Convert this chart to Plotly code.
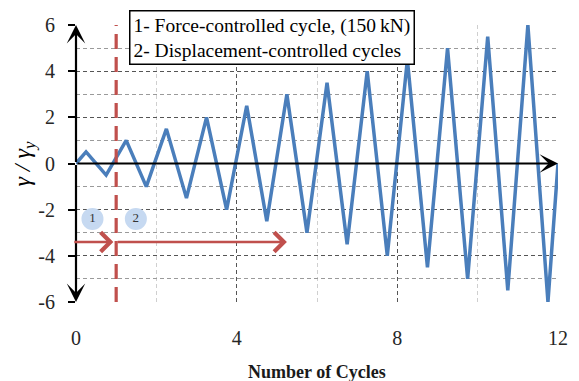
import plotly.graph_objects as go

# Data: loading protocol (peaks at k+0.25, valleys at k+0.75)
cycle_x = [0, 0.25, 0.75, 1.25, 1.75, 2.25, 2.75, 3.25, 3.75, 4.25, 4.75, 5.25, 5.75,
           6.25, 6.75, 7.25, 7.75, 8.25, 8.75, 9.25, 9.75, 10.25, 10.75, 11.25, 11.75, 12]
drift_ratio = [0, 0.5, -0.5, 1, -1, 1.5, -1.5, 2, -2, 2.5, -2.5, 3, -3,
               3.5, -3.5, 4, -4, 4.5, -4.5, 5, -5, 5.5, -5.5, 6, -6, 0]
x_ticks = [0, 4, 8, 12]
y_ticks = [-6, -4, -2, 0, 2, 4, 6]
phase_boundary = 1
phase_labels = ["1", "2"]
phase_label_x = [0.41, 1.49]
phase_label_y = [-2.4, -2.4]
legend_lines = ["1- Force-controlled cycle, (150\u2009kN)", "2- Displacement-controlled cycles"]

SERIF = "Liberation Serif"
BLUE = "#4A7EBB"
RED = "#C0504D"

fig = go.Figure()

fig.add_trace(go.Scatter(
    x=cycle_x, y=drift_ratio, mode="lines",
    line=dict(color=BLUE, width=3.5), showlegend=False, hoverinfo="skip"))

fig.add_trace(go.Scatter(
    x=phase_label_x, y=phase_label_y, mode="markers+text", text=phase_labels,
    textposition="middle center",
    marker=dict(size=22, color="#C6D9F1", line=dict(width=0)),
    textfont=dict(family=SERIF, size=13, color="#333333"),
    showlegend=False, hoverinfo="skip"))

# Red dashed boundary between phases
fig.add_shape(type="line", xref="x", yref="y", x0=phase_boundary, x1=phase_boundary,
              y0=-6, y1=6, line=dict(color=RED, width=3.2, dash="15px,8px"))

annotations = []
# y axis with double arrows
for tip in (6, -6):
    annotations.append(dict(x=0, y=tip, ax=0, ay=0, xref="x", yref="y", axref="x", ayref="y",
                            showarrow=True, arrowhead=3, arrowsize=1.4, arrowwidth=2.2,
                            arrowcolor="black", text=""))
# x axis arrow
annotations.append(dict(x=12, y=0, ax=0, ay=0, xref="x", yref="y", axref="x", ayref="y",
                        showarrow=True, arrowhead=3, arrowsize=1.4, arrowwidth=2.2,
                        arrowcolor="black", text=""))
# red phase arrows
annotations.append(dict(x=0.93, y=-3.4, ax=-0.08, ay=-3.4, xref="x", yref="y", axref="x", ayref="y",
                        showarrow=True, arrowhead=4, arrowsize=1.5, arrowwidth=2.5,
                        arrowcolor=RED, text=""))
annotations.append(dict(x=5.25, y=-3.4, ax=1, ay=-3.4, xref="x", yref="y", axref="x", ayref="y",
                        showarrow=True, arrowhead=4, arrowsize=1.5, arrowwidth=2.5,
                        arrowcolor=RED, text=""))
# legend-like text box
annotations.append(dict(xref="paper", yref="paper", x=(130 - 76) / 492, y=(302 - 10) / 277,
                        xanchor="left", yanchor="top", align="left", showarrow=False,
                        text="<br>".join(legend_lines),
                        font=dict(family=SERIF, size=19.5, color="black"),
                        bordercolor="black", borderwidth=1.5, borderpad=3, bgcolor="white"))
# axis titles
annotations.append(dict(xref="paper", yref="paper", x=0.5, y=(302 - 372) / 277,
                        xanchor="center", yanchor="middle", showarrow=False,
                        text="<b>Number of Cycles</b>",
                        font=dict(family=SERIF, size=18, color="#1a1a1a")))
annotations.append(dict(xref="paper", yref="paper", x=(22 - 76) / 492, y=0.5,
                        xanchor="center", yanchor="middle", showarrow=False, textangle=-90,
                        text="<i>\u03b3 / \u03b3<sub>y</sub></i>",
                        font=dict(family=SERIF, size=24, color="black")))

fig.update_layout(
    width=579, height=381,
    margin=dict(l=76, r=11, t=25, b=79),
    paper_bgcolor="white", plot_bgcolor="white",
    font=dict(family=SERIF),
    annotations=annotations,
    xaxis=dict(range=[0, 12], tickvals=x_ticks, ticktext=[str(v) for v in x_ticks],
               showgrid=True, gridcolor="#555555", griddash="4px,3px", gridwidth=1,
               minor=dict(dtick=2, showgrid=True, gridcolor="#cfcfcf", griddash="4px,3px", gridwidth=1),
               zeroline=False, showline=False, ticks="", ticklabelstandoff=22,
               tickfont=dict(family=SERIF, size=20, color="#262626")),
    yaxis=dict(range=[-6, 6], tickvals=y_ticks, ticktext=[str(v) for v in y_ticks],
               showgrid=True, gridcolor="#555555", griddash="4px,3px", gridwidth=1,
               minor=dict(dtick=1, showgrid=True, gridcolor="#9a9a9a", griddash="4px,3px", gridwidth=1),
               zeroline=False, showline=False, ticks="outside", ticklen=7, tickwidth=2,
               tickcolor="black", ticklabelstandoff=9,
               tickfont=dict(family=SERIF, size=20, color="#262626")),
)

fig.write_html("out.html")
